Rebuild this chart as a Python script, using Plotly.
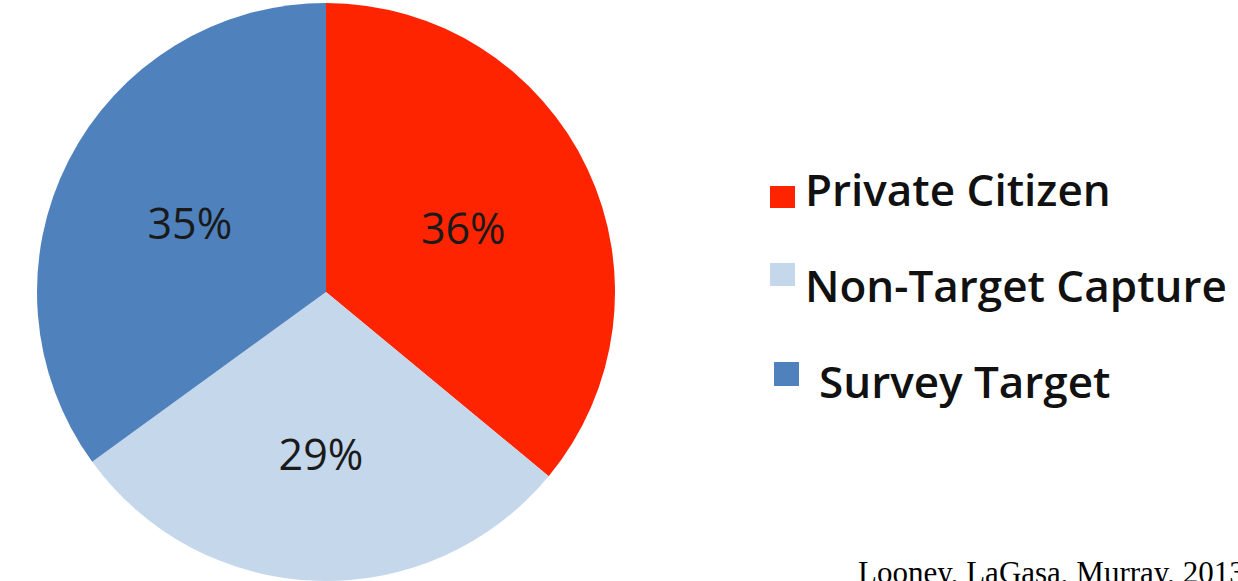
import plotly.graph_objects as go

categories = ["Private Citizen", "Non-Target Capture", "Survey Target"]
values = [36, 29, 35]
colors = ["#FF2400", "#C5D7EB", "#4F81BD"]
source_text = "Looney, LaGasa, Murray, 2013"

W, H = 1238, 581

fig = go.Figure()
fig.add_trace(go.Pie(
    labels=categories,
    values=values,
    sort=False,
    direction="clockwise",
    rotation=0,
    marker=dict(colors=colors, line=dict(width=0)),
    textinfo="percent",
    texttemplate="%{percent:.0%}",
    textposition="inside",
    insidetextorientation="horizontal",
    textfont=dict(family="Open Sans", size=43, color="#1a1a1a"),
    domain=dict(x=[37 / W, 615 / W], y=[0.0, 578 / H]),
    showlegend=False,
    hoverinfo="label+percent",
))

# custom legend (large squares with wide spacing, as in the original)
legend_rows = [
    dict(sq=(770, 186, 795, 208), tx=803, ty=189),
    dict(sq=(770, 263, 795, 286), tx=803, ty=285),
    dict(sq=(774, 362, 799, 386), tx=817, ty=381),
]
shapes = []
annotations = []
for cat, col, row in zip(categories, colors, legend_rows):
    x0, y0, x1, y1 = row["sq"]
    shapes.append(dict(type="rect", xref="paper", yref="paper",
                       x0=x0 / W, x1=x1 / W, y0=1 - y1 / H, y1=1 - y0 / H,
                       fillcolor=col, line=dict(width=0)))
    annotations.append(dict(text=cat, xref="paper", yref="paper",
                            x=row["tx"] / W, y=1 - row["ty"] / H,
                            xanchor="left", yanchor="middle", showarrow=False,
                            font=dict(family="Open Sans", size=44, color="#111111",
                                      weight=600)))

annotations.append(dict(text=source_text, xref="paper", yref="paper",
                        x=856 / W, y=1 - 553 / H, xanchor="left", yanchor="top",
                        showarrow=False,
                        font=dict(family="Liberation Serif", size=31, color="#000000")))

fig.update_layout(
    width=W, height=H,
    margin=dict(l=0, r=0, t=0, b=0),
    paper_bgcolor="white",
    plot_bgcolor="white",
    shapes=shapes,
    annotations=annotations,
)

fig.write_html("out.html")
